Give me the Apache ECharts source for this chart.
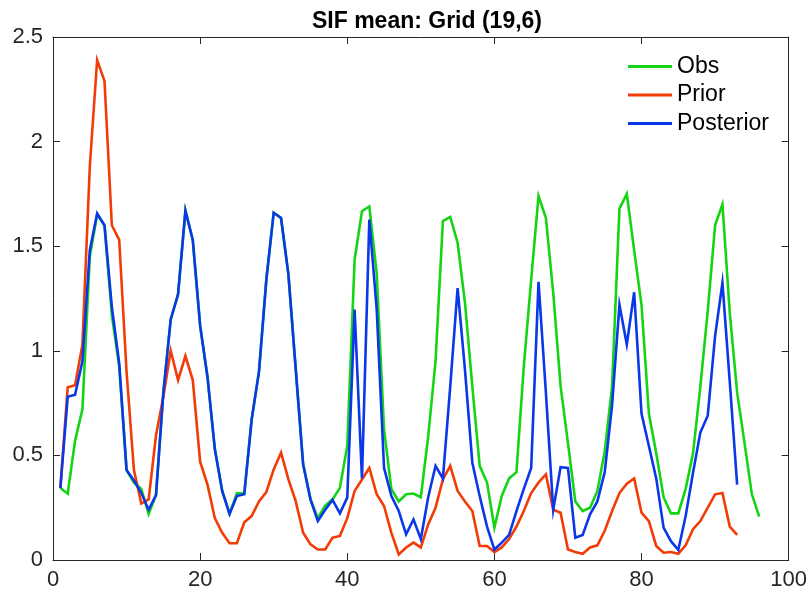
<!DOCTYPE html>
<html>
<head>
<meta charset="utf-8">
<script src="https://cdn.jsdelivr.net/npm/echarts@6/dist/echarts.min.js"></script>
<style>
html,body{margin:0;padding:0;background:#fff;}
#chart{width:810px;height:594px;}
</style>
</head>
<body>
<div id="chart"></div>
<script>
// Time step index (1-based) and SIF mean series for grid cell (19,6)
const obs = [
  0.344, 0.317, 0.57, 0.72, 1.45, 1.65, 1.60, 1.17, 0.925, 0.43,
  0.37, 0.34, 0.22, 0.31, 0.8, 1.15, 1.27, 1.67, 1.53, 1.12,
  0.875, 0.53, 0.33, 0.22, 0.32, 0.318, 0.67, 0.90, 1.34, 1.66,
  1.635, 1.365, 0.91, 0.46, 0.29, 0.20, 0.26, 0.29, 0.345, 0.545,
  1.436, 1.667, 1.69, 1.37, 0.624, 0.338, 0.28, 0.314, 0.318, 0.30,
  0.59, 0.95, 1.62, 1.64, 1.516, 1.23, 0.83, 0.45, 0.37, 0.155,
  0.306, 0.39, 0.42, 0.927, 1.34, 1.74, 1.635, 1.277, 0.83, 0.56,
  0.28, 0.234, 0.25, 0.33, 0.52, 0.83, 1.68, 1.75, 1.48, 1.22,
  0.70, 0.51, 0.30, 0.223, 0.223, 0.34, 0.51, 0.83, 1.19, 1.60,
  1.70, 1.18, 0.80, 0.56, 0.314, 0.207
];
const prior = [
  0.344, 0.826, 0.835, 1.03, 1.88, 2.39, 2.29, 1.60, 1.53, 0.9,
  0.43, 0.27, 0.29, 0.595, 0.78, 1.0, 0.86, 0.975, 0.86, 0.47,
  0.36, 0.2, 0.13, 0.08, 0.08, 0.18, 0.21, 0.28, 0.325, 0.433,
  0.513, 0.385, 0.28, 0.13, 0.075, 0.05, 0.05, 0.107, 0.115, 0.20,
  0.33, 0.385, 0.44, 0.314, 0.258, 0.13, 0.027, 0.06, 0.083, 0.06,
  0.17, 0.25, 0.385, 0.45, 0.33, 0.28, 0.234, 0.067, 0.067, 0.038,
  0.06, 0.10, 0.16, 0.234, 0.32, 0.37, 0.41, 0.24, 0.226, 0.05,
  0.038, 0.03, 0.06, 0.07, 0.14, 0.234, 0.32, 0.365, 0.39, 0.226,
  0.186, 0.067, 0.035, 0.038, 0.03, 0.07, 0.147, 0.186, 0.25, 0.314,
  0.32, 0.16, 0.12
];
const posterior = [
  0.344, 0.78, 0.79, 0.95, 1.48, 1.656, 1.60, 1.21, 0.94, 0.43,
  0.38, 0.32, 0.24, 0.31, 0.8, 1.15, 1.27, 1.67, 1.53, 1.12,
  0.875, 0.53, 0.33, 0.22, 0.306, 0.314, 0.67, 0.90, 1.34, 1.66,
  1.635, 1.365, 0.91, 0.457, 0.29, 0.186, 0.24, 0.287, 0.223, 0.298,
  1.197, 0.39, 1.627, 1.2, 0.44, 0.306, 0.234, 0.123, 0.194, 0.10,
  0.3, 0.45, 0.39, 0.83, 1.30, 0.91, 0.465, 0.306, 0.16, 0.05,
  0.083, 0.12, 0.234, 0.34, 0.44, 1.33, 0.80, 0.24, 0.444, 0.44,
  0.107, 0.12, 0.218, 0.28, 0.42, 0.74, 1.22, 1.03, 1.28, 0.70,
  0.545, 0.39, 0.155, 0.09, 0.048, 0.21, 0.417, 0.61, 0.69, 1.07,
  1.325, 0.85, 0.36
];
const seriesNames = ['Obs', 'Prior', 'Posterior'];
const seriesColors = ['#14d414', '#f23c06', '#0a38e8'];

const toPoints = arr => arr.map((v, i) => [i + 1, v]);

const FONT = '"Liberation Sans", Arial, Helvetica, sans-serif';
const AX = '#262626';

const frameAxis = {
  axisLine: { show: true, onZero: false, lineStyle: { color: AX, width: 1 } },
  axisTick: { show: true, inside: true, length: 7, lineStyle: { color: AX } },
  splitLine: { show: false }
};

const chart = echarts.init(document.getElementById('chart'), null, { renderer: 'canvas' });
chart.setOption({
  animation: false,
  backgroundColor: '#ffffff',
  title: {
    text: 'SIF mean: Grid (19,6)',
    left: 422, top: 5, textAlign: 'center',
    textStyle: { fontFamily: FONT, fontSize: 23, fontWeight: 'bold', color: '#000' }
  },
  legend: {
    data: seriesNames,
    orient: 'vertical',
    left: 628, top: 55,
    padding: 0,
    icon: 'rect',
    itemWidth: 44, itemHeight: 3,
    itemGap: 5.5,
    textStyle: { fontFamily: FONT, fontSize: 23, color: '#000', lineHeight: 23 }
  },
  grid: { left: 53, right: 20, top: 37, bottom: 34, containLabel: false },
  xAxis: [
    Object.assign({
      type: 'value', position: 'bottom', min: 0, max: 100, interval: 20,
      axisLabel: { fontFamily: FONT, fontSize: 22, color: AX, margin: 9 }
    }, frameAxis),
    Object.assign({
      type: 'value', position: 'top', min: 0, max: 100, interval: 20,
      axisLabel: { show: false }
    }, frameAxis)
  ],
  yAxis: [
    Object.assign({
      type: 'value', position: 'left', min: 0, max: 2.5, interval: 0.5,
      axisLabel: { fontFamily: FONT, fontSize: 22, color: AX, margin: 10 }
    }, frameAxis),
    Object.assign({
      type: 'value', position: 'right', min: 0, max: 2.5, interval: 0.5,
      axisLabel: { show: false }
    }, frameAxis)
  ],
  series: [obs, prior, posterior].map((arr, k) => ({
    name: seriesNames[k],
    type: 'line',
    data: toPoints(arr),
    xAxisIndex: 0, yAxisIndex: 0,
    showSymbol: false,
    symbol: 'none',
    color: seriesColors[k],
    lineStyle: { color: seriesColors[k], width: 2.6, join: 'miter' },
    z: 2 + k
  }))
});
</script>
</body>
</html>
